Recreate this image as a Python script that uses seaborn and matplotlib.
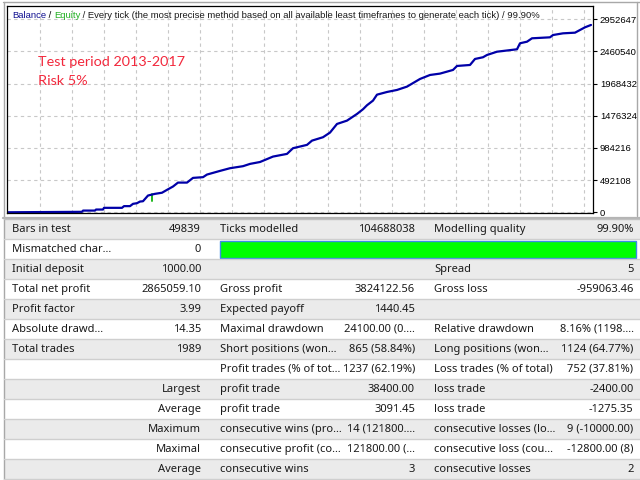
import seaborn as sns
import matplotlib.pyplot as plt
import pandas as pd
from matplotlib.patches import Rectangle

# balance curve (test step -> balance)
step = [8, 82, 83, 95, 96, 103, 104, 122, 124, 130, 133, 137, 140, 143, 148, 150, 155,
        162, 167, 173, 178, 187, 193, 203, 207, 220, 230, 243, 250, 260, 273, 287, 293,
        307, 312, 323, 330, 337, 347, 357, 363, 367, 373, 377, 387, 397, 407, 420, 430,
        440, 453, 457, 470, 475, 483, 487, 497, 517, 520, 527, 532, 550, 553, 563, 575,
        580, 585, 591]
balance = [1000, 8000, 27000, 27000, 43000, 43000, 69000, 69000, 95000, 95000, 130000,
           140000, 165000, 170000, 257000, 265000, 283000, 300000, 344000, 395000, 455000,
           455000, 527000, 538000, 578000, 634000, 675000, 706000, 741000, 770000, 853000,
           894000, 981000, 1032000, 1097000, 1149000, 1220000, 1352000, 1403000, 1505000,
           1577000, 1638000, 1709000, 1800000, 1841000, 1872000, 1923000, 2040000, 2101000,
           2122000, 2178000, 2239000, 2254000, 2346000, 2372000, 2407000, 2457000, 2494000,
           2586000, 2610000, 2662000, 2677000, 2712000, 2738000, 2748000, 2789000, 2830000,
           2866059]
equity_step = [152, 152]
equity = [283000, 170000]

y_ticks = [0, 492108, 984216, 1476324, 1968432, 2460540, 2952647]
y_labels = ['0', '492108', '984216', '1476324', '1968432', '2460540', '2952647']

# report table: label, value, label, value, label, value
table_rows = [
    ("Bars in test", "49839", "Ticks modelled", "104688038", "Modelling quality", "99.90%"),
    ("Mismatched char...", "0", "", "", "", ""),
    ("Initial deposit", "1000.00", "", "", "Spread", "5"),
    ("Total net profit", "2865059.10", "Gross profit", "3824122.56", "Gross loss", "-959063.46"),
    ("Profit factor", "3.99", "Expected payoff", "1440.45", "", ""),
    ("Absolute drawd...", "14.35", "Maximal drawdown", "24100.00 (0....", "Relative drawdown", "8.16% (1198...."),
    ("Total trades", "1989", "Short positions (won...", "865 (58.84%)", "Long positions (won...", "1124 (64.77%)"),
    ("", "", "Profit trades (% of tot...", "1237 (62.19%)", "Loss trades (% of total)", "752 (37.81%)"),
    ("", "Largest", "profit trade", "38400.00", "loss trade", "-2400.00"),
    ("", "Average", "profit trade", "3091.45", "loss trade", "-1275.35"),
    ("", "Maximum", "consecutive wins (pro...", "14 (121800....", "consecutive losses (lo...", "9 (-10000.00)"),
    ("", "Maximal", "consecutive profit (co...", "121800.00 (...", "consecutive loss (cou...", "-12800.00 (8)"),
    ("", "Average", "consecutive wins", "3", "consecutive losses", "2"),
]

sns.set_style('white')
W, H = 640, 480
fig = plt.figure(figsize=(6.4, 4.8), dpi=100)

# background axes in pixel units for the report table
tab = fig.add_axes([0, 0, 1, 1])
tab.set_xlim(0, W)
tab.set_ylim(H, 0)
tab.axis('off')

tab.plot([3, W], [1.5, 1.5], color='#a8a8a8', lw=1)
tab.plot([3.5, 3.5], [1.5, H], color='#a8a8a8', lw=1)
tab.plot([637, 637], [1.5, 216], color='#a8a8a8', lw=1)
tab.plot([3, W], [217.5, 217.5], color='#b4b4b4', lw=1.6)

table_font = dict(family=['Noto Sans', 'DejaVu Sans'], fontsize=8, color='#1a1a1a')
col_x = [(12, 'left'), (201, 'right'), (220, 'left'), (415, 'right'), (434, 'left'), (633.5, 'right')]
row_top = 219.3
row_h = 20
for i, row in enumerate(table_rows):
    top = row_top + i * row_h
    if i % 2 == 0:
        tab.axhspan(top, top + row_h, xmin=4 / W, xmax=1, color='#ebebeb', lw=0)
    tab.plot([4, W], [top + row_h, top + row_h], color='#cfcfcf', lw=1)
    for (x, ha), txt in zip(col_x, row):
        if txt:
            tab.text(x, top + row_h / 2, txt, ha=ha, va='center', **table_font)
tab.plot([4, W], [row_top, row_top], color='#c0c0c0', lw=1)
tab.add_patch(Rectangle((220, 241), 415.7, 16.7, facecolor='#00ff00',
                        edgecolor='#3c8ce6', lw=1))

# balance chart
ax = fig.add_axes([7 / W, 1 - 213 / H, (593 - 7) / W, (213 - 6) / H])
ax.set_facecolor('white')
df = pd.DataFrame({'step': step, 'balance': balance})
eq = pd.DataFrame({'step': equity_step, 'equity': equity})
sns.lineplot(data=eq, x='step', y='equity', estimator=None, sort=False,
             color='#1fb81f', lw=1.4, ax=ax)
sns.lineplot(data=df, x='step', y='balance', estimator=None,
             color='#0000a8', lw=1.6, ax=ax)
ax.set_xlim(7, 593)
ax.set_ylim(-10000, 3156000)
ax.set_xticks(list(range(40, 593, 32)))
ax.set_xticklabels([])
ax.yaxis.tick_right()
ax.set_yticks(y_ticks)
ax.set_yticklabels(y_labels, family=['Liberation Sans', 'DejaVu Sans'], fontsize=6.8)
ax.tick_params(axis='x', length=0)
ax.tick_params(axis='y', length=3, width=0.8, pad=2, colors='black')
ax.set_xlabel('')
ax.set_ylabel('')
ax.grid(True, color='#c8c8c8', linestyle=(0, (3, 3)), lw=0.8)
ax.set_axisbelow(True)
for s in ax.spines.values():
    s.set_color('black')
    s.set_linewidth(0.9)

head_font = dict(family=['Liberation Sans', 'DejaVu Sans'], fontsize=6.8)
t1 = ax.text(5 / (593 - 7), 1 - 9 / 207, 'Balance', transform=ax.transAxes,
             va='center', color='#101090', **head_font)
t2 = ax.annotate(' / ', xy=(1, 0), xycoords=t1, va='bottom', color='black', **head_font)
t3 = ax.annotate('Equity', xy=(1, 0), xycoords=t2, va='bottom', color='#22b022', **head_font)
ax.annotate(' / Every tick (the most precise method based on all available least timeframes '
            'to generate each tick) / 99.90%', xy=(1, 0), xycoords=t3, va='bottom',
            color='#1a1a1a', **head_font)

red_font = dict(family=['Lato', 'DejaVu Sans'], fontsize=10.4, color='#f2283c')
fig.text(38 / W, 1 - 62 / H, 'Test period 2013-2017', va='center', **red_font)
fig.text(38 / W, 1 - 81 / H, 'Risk 5%', va='center', **red_font)

fig.savefig('out.png', dpi=100)
